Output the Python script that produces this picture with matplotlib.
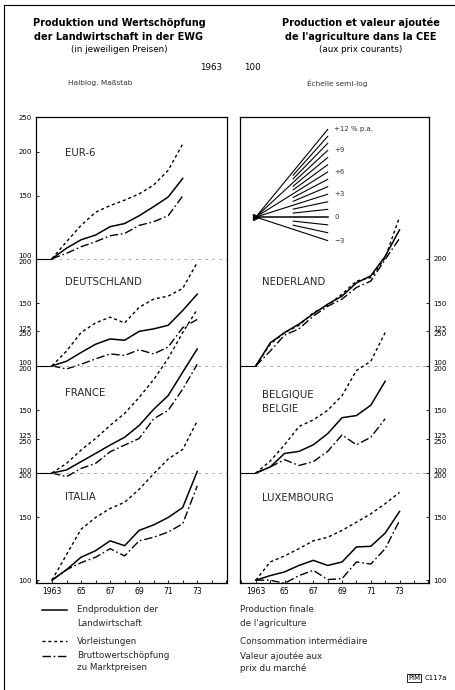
import matplotlib
matplotlib.use("Agg")
import matplotlib.pyplot as plt
from matplotlib.lines import Line2D
import numpy as np

W, H = 456, 690

years = list(range(1963, 1974))
years_short = years[:10]          # series that stop in 1972

# left block: index 1963 = 100
eur_prod = [100, 107, 113, 116.5, 123, 125.5, 132, 140, 149, 168]
eur_vorl = [100, 111.6, 124, 135, 141, 146, 152, 161, 177, 210]
eur_bws = [100, 103.5, 108, 111.6, 116, 117.7, 124, 127, 132, 150]

de_prod = [100, 103, 109, 115, 119, 118, 125, 127, 130, 143, 159]
de_vorl = [100, 110, 124, 132, 137, 132, 146, 154, 157, 165, 195]
de_bws = [100, 98, 101, 104.6, 108, 107, 111, 108, 113, 128, 135]

fr_prod = [100, 102, 107.6, 113.5, 119.8, 126, 136, 151, 165, 192, 223]
fr_vorl = [100, 106.4, 116, 125, 136, 147, 163, 183, 210, 248, 288]
fr_bws = [100, 97.7, 103, 106.4, 114.7, 119.8, 125, 142, 150, 172, 202]

it_prod = [100, 107, 116, 121, 129, 125, 138, 143, 150, 160, 202]
it_vorl = [100, 118, 139, 150, 159, 165.5, 180, 199, 219, 233, 280]
it_bws = [100, 107, 112, 116, 122.6, 117, 129, 132, 136.5, 144, 184]

# right block
nl_prod = [100, 116, 124, 131, 140, 149, 157, 171, 179, 203, 241]
nl_vorl = [100, 115, 124, 130, 141, 148, 159, 173, 177, 201, 262]
nl_bws = [100, 110, 122, 127, 138, 147, 154, 166, 173, 199, 228]

be_prod = [100, 104, 113.5, 115, 120, 129, 143, 145, 155, 181]
be_vorl = [100, 108, 120, 135, 141, 150, 165, 194, 206, 248]
be_bws = [100, 104, 109, 105, 107.6, 115, 128, 120, 126, 142]

lu_prod = [100, 103, 105.5, 110, 113.7, 110, 112.5, 124, 124.5, 135.6, 156]
lu_vorl = [100, 112.5, 117, 122.6, 129, 132, 138, 145.5, 153.6, 164, 176.5]
lu_bws = [100, 100, 98, 103, 106.6, 100.4, 101, 112.5, 111, 122.6, 147]

# growth-rate fan (% per year)
fan_rates = list(range(-3, 13))
fan_labels = {12: "+12 % p.a.", 9: "+9", 6: "+6", 3: "+3", 0: "0", -3: "\u22123"}

x_labels = ["1963", "65", "67", "69", "71", "73"]

left_panels = [("EUR-6", 3, years_short, eur_prod, eur_vorl, eur_bws),
               ("DEUTSCHLAND", 2, years, de_prod, de_vorl, de_bws),
               ("FRANCE", 1, years, fr_prod, fr_vorl, fr_bws),
               ("ITALIA", 0, years, it_prod, it_vorl, it_bws)]
right_panels = [("NEDERLAND", 2, years, nl_prod, nl_vorl, nl_bws),
                ("BELGIQUE\nBELGIE", 1, years_short, be_prod, be_vorl, be_bws),
                ("LUXEMBOURG", 0, years, lu_prod, lu_vorl, lu_bws)]

STY_PROD = dict(color="black", lw=1.1, ls="-")
STY_VORL = dict(color="black", lw=1.0, ls=(0, (2.2, 2.0)))
STY_BWS = dict(color="black", lw=1.0, ls=(0, (6, 2, 1.2, 2)))


def fx(x):
    return x / W


def fy(y):
    return 1 - y / H


fig = plt.figure(figsize=(W / 100, H / 100), dpi=100)
ax_l = fig.add_axes([fx(36), fy(583), 191 / W, 466 / H])
ax_r = fig.add_axes([fx(240), fy(583), 189 / W, 466 / H])

for ax in (ax_l, ax_r):
    ax.set_yscale("log")
    ax.set_ylim(98.2, 2000)
    ax.set_xlim(1961.9, 1975.05)
    for sp in ax.spines.values():
        sp.set_linewidth(0.9)
    ax.yaxis.set_minor_locator(matplotlib.ticker.NullLocator())
    ax.set_xticks([1963, 1965, 1967, 1969, 1971, 1973], x_labels)
    ax.set_xticks(range(1962, 1976), minor=True)
    ax.tick_params(axis="x", which="both", direction="in", length=2, width=0.6,
                   labelsize=5.5, pad=3)
    ax.tick_params(axis="y", direction="in", length=2.5, width=0.6,
                   labelsize=5, pad=3)


def draw_panels(ax, panels, name_x, name_y):
    for (name, k, yrs, prod, vorl, bws), ny in zip(panels, name_y):
        f = 2 ** k
        ax.plot(yrs, np.array(prod) * f, **STY_PROD)
        ax.plot(yrs, np.array(vorl) * f, **STY_VORL)
        ax.plot(yrs, np.array(bws) * f, **STY_BWS)
        if k > 0:
            ax.plot([1961.9, 1963], [100 * f, 100 * f], color="black", lw=0.8)
            ax.plot([1963, 1975.05], [100 * f, 100 * f], color="0.55", lw=0.5,
                    ls=(0, (4, 6)))
        fig.text(fx(name_x), fy(ny), name, fontsize=7.3, ha="left", va="center",
                 color="0.15", linespacing=1.5)


draw_panels(ax_l, left_panels, 65, [153, 282, 393, 497])
draw_panels(ax_r, right_panels, 262, [282, 402, 498])

# y ticks
ax_l.set_yticks([100, 150, 200, 250, 300, 400, 500, 600, 800, 1200, 1600, 2000],
                ["100", "150", "100\n200", "125\n250", "150", "100\n200", "125\n250",
                 "150", "100\n200", "150", "200", "250"])
ax_r.yaxis.tick_right()
ax_r.set_yticks([100, 150, 200, 250, 300, 400, 500, 600, 800],
                ["100", "150", "100\n200", "125\n250", "150", "100\n200", "125\n250",
                 "150", "200"])
for t in ax_l.get_yticklabels() + ax_r.get_yticklabels():
    t.set_linespacing(0.9)

# growth-rate fan
fan_x0, fan_x1, fan_y0 = 1963, 1968, 1047
for r in fan_rates:
    g = 1 + r / 100
    if r % 3 == 0:
        xs = [fan_x0, fan_x1]
    else:
        xs = [1965.6, fan_x1]
    ys = [fan_y0 * g ** (x - fan_x0) for x in xs]
    ax_r.plot(xs, ys, color="black", lw=0.8 if r != 0 else 1.1)
    if r in fan_labels:
        ax_r.text(fan_x1 + 0.45, fan_y0 * g ** 5, fan_labels[r], fontsize=5,
                  ha="left", va="center", color="0.2")
ax_r.plot([fan_x0], [fan_y0], marker=">", color="black", ms=4)

# titles
tl, tr = 119, 361
fig.text(fx(tl), fy(23), "Produktion und Wertschöpfung", fontsize=7, weight="bold",
         ha="center", va="center")
fig.text(fx(tl), fy(37), "der Landwirtschaft in der EWG", fontsize=7, weight="bold",
         ha="center", va="center")
fig.text(fx(tl), fy(49), "(in jeweiligen Preisen)", fontsize=6.3, ha="center",
         va="center")
fig.text(fx(tr), fy(23), "Production et valeur ajoutée", fontsize=7, weight="bold",
         ha="center", va="center")
fig.text(fx(tr), fy(37), "de l'agriculture dans la CEE", fontsize=7, weight="bold",
         ha="center", va="center")
fig.text(fx(tr), fy(49), "(aux prix courants)", fontsize=6.3, ha="center",
         va="center")
fig.text(fx(211), fy(68), "1963", fontsize=6.3, ha="center", va="center")
fig.text(fx(252), fy(68), "100", fontsize=6.3, ha="center", va="center")
fig.text(fx(100), fy(83), "Halblog. Maßstab", fontsize=5.3, ha="center",
         va="center", color="0.2")
fig.text(fx(337), fy(83), "Échelle semi-log", fontsize=5.3, ha="center",
         va="center", color="0.2")

# legend
leg_y = [610, 641, 656]
for st, ly in zip([STY_PROD, STY_VORL, STY_BWS], leg_y):
    fig.add_artist(Line2D([fx(42), fx(67)], [fy(ly), fy(ly)], **st))
left_txt = [(610, "Endproduktion der"), (623, "Landwirtschaft"), (641, "Vorleistungen"),
            (656, "Bruttowertschöpfung"), (668, "zu Marktpreisen")]
right_txt = [(610, "Production finale"), (623, "de l'agriculture"),
             (641, "Consommation intermédiaire"), (656, "Valeur ajoutée aux"),
             (668, "prix du marché")]
for ly, s in left_txt:
    fig.text(fx(77), fy(ly), s, fontsize=6.3, ha="left", va="center", color="0.15")
for ly, s in right_txt:
    fig.text(fx(240), fy(ly), s, fontsize=6.3, ha="left", va="center", color="0.15")

fig.text(fx(414), fy(678), "PIM", fontsize=5, ha="center", va="center",
         bbox=dict(boxstyle="square,pad=0.2", fc="white", ec="black", lw=0.6))
fig.text(fx(425), fy(678), "C117a", fontsize=5, ha="left", va="center")

# page edges
fig.add_artist(Line2D([fx(4), fx(4)], [0, fy(5)], color="black", lw=0.8))
fig.add_artist(Line2D([fx(4), 1], [fy(5), fy(5)], color="black", lw=0.8))

fig.savefig("out.png", dpi=100)
plt.close(fig)
